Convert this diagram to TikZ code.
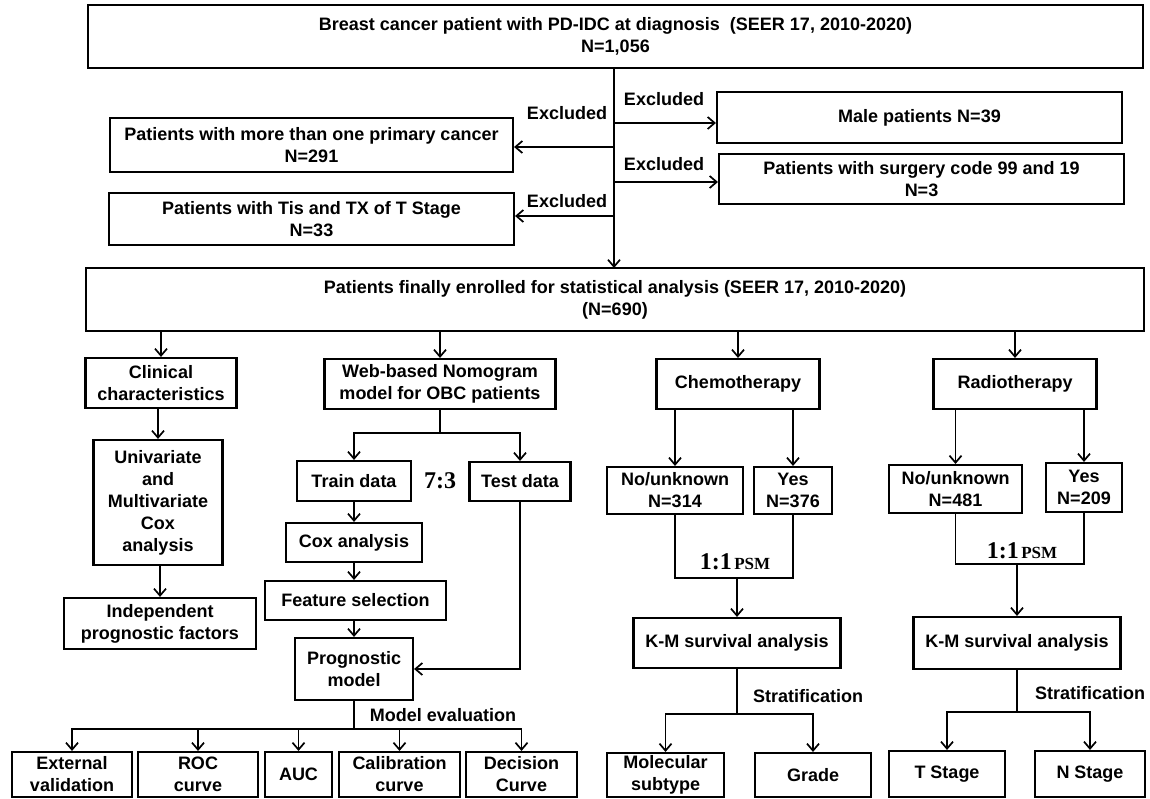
\documentclass[tikz,border=0pt]{standalone}
\usepackage{fontspec}
\setmainfont{Liberation Sans}
\newfontfamily\serifbf{Liberation Serif}
\usetikzlibrary{arrows.meta}
\tikzset{
	box/.style={draw,line width=2.1pt,align=center,inner sep=0pt,font=\fontsize{18}{22}\selectfont\bfseries},
	lbl/.style={inner sep=0pt,font=\fontsize{18}{22}\selectfont\bfseries},
	ratiolbl/.style={inner sep=0pt,font=\serifbf\bfseries},
	ln/.style={line width=1.7pt},
	arr/.style={line width=1.7pt,-{Straight Barb[length=7pt,width=12pt]}}
}
\begin{document}
\begin{tikzpicture}[x=1pt,y=-1pt]
		\path[fill=white,use as bounding box] (0,0) rectangle (1150,799);
		% screening
		\node[box,minimum width=1055pt,minimum height=63pt] (top) at (615.5,36.5) {Breast cancer patient with PD-IDC at diagnosis~ (SEER 17, 2010-2020)\\N=1,056};
		\node[box,minimum width=405pt,minimum height=51pt] (male) at (919.5,117.5) {Male patients N=39};
		\node[box,minimum width=403pt,minimum height=54pt] (multi) at (311.5,145) {Patients with more than one primary cancer\\N=291};
		\node[box,minimum width=405pt,minimum height=50pt] (surg) at (921.5,179) {Patients with surgery code 99 and 19\\N=3};
		\node[box,minimum width=405pt,minimum height=52pt] (tis) at (311.5,219) {Patients with Tis and TX of T Stage\\N=33};
		\node[box,minimum width=1058pt,minimum height=63pt] (enr) at (615,299.5) {Patients finally enrolled for statistical analysis (SEER 17, 2010-2020)\\(N=690)};
		\draw[arr] (614,68) -- (614,268);
		\coordinate (e1) at (614,123);
		\coordinate (e2) at (614,147);
		\coordinate (e3) at (614,182);
		\coordinate (e4) at (614,216);
		\draw[arr] (e1) -- (e1 -| male.west);
		\draw[arr] (e2) -- (e2 -| multi.east);
		\draw[arr] (e3) -- (e3 -| surg.west);
		\draw[arr] (e4) -- (e4 -| tis.east);
		\node[lbl] (ex1) at (664,99) {Excluded};
		\node[lbl] (ex2) at (567,113) {Excluded};
		\node[lbl] (ex3) at (664,164) {Excluded};
		\node[lbl] (ex4) at (567,201) {Excluded};
		% four branches
		\node[box,minimum width=151pt,minimum height=50pt] (clin) at (161,383) {Clinical\\characteristics};
		\node[box,minimum width=231pt,minimum height=50pt] (web) at (440,384) {Web-based Nomogram\\model for OBC patients};
		\node[box,minimum width=163pt,minimum height=50pt] (chemo) at (738,384) {Chemotherapy};
		\node[box,minimum width=163pt,minimum height=50pt] (radio) at (1015,384) {Radiotherapy};
		\draw[arr] (enr.south -| clin.north) -- (clin.north);
		\draw[arr] (enr.south -| web.north) -- (web.north);
		\draw[arr] (enr.south -| chemo.north) -- (chemo.north);
		\draw[arr] (enr.south -| radio.north) -- (radio.north);
		% clinical
		\node[box,minimum width=129pt,minimum height=125pt] (univ) at (158,502.5) {Univariate\\and\\Multivariate\\Cox\\analysis};
		\node[box,minimum width=192pt,minimum height=51pt] (indep) at (160,623.5) {Independent\\prognostic factors};
		\draw[arr] (clin.south -| univ.north) -- (univ.north);
		\draw[arr] (univ.south -| indep.north) -- (indep.north);
		% nomogram
		\node[box,minimum width=114pt,minimum height=40pt] (train) at (354,481) {Train data};
		\node[box,minimum width=101pt,minimum height=39pt] (test) at (520,481.5) {Test data};
		\node[ratiolbl,font=\serifbf\bfseries\fontsize{24}{26}\selectfont] (ratio) at (440,481) {7:3};
		\node[box,minimum width=136pt,minimum height=39pt] (coxa) at (354,542.5) {Cox analysis};
		\node[box,minimum width=181pt,minimum height=39pt] (feat) at (355.5,600.5) {Feature selection};
		\node[box,minimum width=118pt,minimum height=62pt] (prog) at (354,669) {Prognostic\\model};
		\draw[ln] (web.south) -- ++(0,23) coordinate (ws);
		\draw[arr] (ws) -| (train.north);
		\draw[arr] (ws) -| (test.north);
		\draw[arr] (train.south) -- (coxa.north);
		\draw[arr] (coxa.south) -- (coxa.south |- feat.north);
		\draw[arr] (feat.south -| prog.north) -- (prog.north);
		\draw[arr] (test.south) |- (prog.east);
		\node[box,minimum width=120pt,minimum height=45pt] (ext) at (72,774.5) {External\\validation};
		\node[box,minimum width=120pt,minimum height=45pt] (roc) at (198,774.5) {ROC\\curve};
		\node[box,minimum width=67pt,minimum height=45pt] (auc) at (298.5,774.5) {AUC};
		\node[box,minimum width=121pt,minimum height=45pt] (cal) at (399.5,774.5) {Calibration\\curve};
		\node[box,minimum width=111pt,minimum height=45pt] (dec) at (521.5,774.5) {Decision\\Curve};
		\draw[ln] (prog.south) -- ++(0,28) coordinate (ev);
		\draw[arr] (ev) -| (ext.north);
		\draw[arr] (ev) -| (roc.north);
		\draw[arr] (ev) -| (auc.north);
		\draw[arr] (ev) -| (cal.north);
		\draw[arr] (ev) -| (dec.north);
		\node[lbl] (meval) at (443,715) {Model evaluation};
		% chemotherapy
		\node[box,minimum width=136pt,minimum height=47pt] (noC) at (675,490.5) {No/unknown\\N=314};
		\node[box,minimum width=78pt,minimum height=47pt] (yesC) at (793,490.5) {Yes\\N=376};
		\draw[arr] (chemo.south -| noC.north) -- (noC.north);
		\draw[arr] (chemo.south -| yesC.north) -- (yesC.north);
		\coordinate (psmC) at (737,578);
		\draw[ln] (noC.south) |- (psmC) -| (yesC.south);
		\node[ratiolbl] (psmlC) at (735,562) {{\fontsize{24}{26}\selectfont 1:1} {\fontsize{17}{19}\selectfont PSM}};
		\node[box,minimum width=207pt,minimum height=50pt] (kmC) at (737,643) {K-M survival analysis};
		\draw[arr] (psmC) -- (kmC.north);
		\node[box,minimum width=117pt,minimum height=44pt] (mol) at (665.5,775) {Molecular\\subtype};
		\node[box,minimum width=116pt,minimum height=44pt] (grade) at (813,775) {Grade};
		\draw[ln] (kmC.south) -- ++(0,45) coordinate (stC);
		\draw[arr] (stC) -| (mol.north);
		\draw[arr] (stC) -| (grade.north);
		\node[lbl] (strC) at (808,696) {Stratification};
		% radiotherapy
		\node[box,minimum width=133pt,minimum height=48pt] (noR) at (955.5,489) {No/unknown\\N=481};
		\node[box,minimum width=76pt,minimum height=49pt] (yesR) at (1084,487.5) {Yes\\N=209};
		\draw[arr] (radio.south -| noR.north) -- (noR.north);
		\draw[arr] (radio.south -| yesR.north) -- (yesR.north);
		\coordinate (psmR) at (1017,564);
		\draw[ln] (noR.south) |- (psmR) -| (yesR.south);
		\node[ratiolbl] (psmlR) at (1022,551) {{\fontsize{24}{26}\selectfont 1:1} {\fontsize{17}{19}\selectfont PSM}};
		\node[box,minimum width=207pt,minimum height=52pt] (kmR) at (1017,643) {K-M survival analysis};
		\draw[arr] (psmR) -- (kmR.north);
		\node[box,minimum width=116pt,minimum height=46pt] (tst) at (947,774) {T Stage};
		\node[box,minimum width=110pt,minimum height=46pt] (nst) at (1090,774) {N Stage};
		\draw[ln] (kmR.south) -- ++(0,42) coordinate (stR);
		\draw[arr] (stR) -| (tst.north);
		\draw[arr] (stR) -| (nst.north);
		\node[lbl] (strR) at (1090,693) {Stratification};
	\end{tikzpicture}
\end{document}
